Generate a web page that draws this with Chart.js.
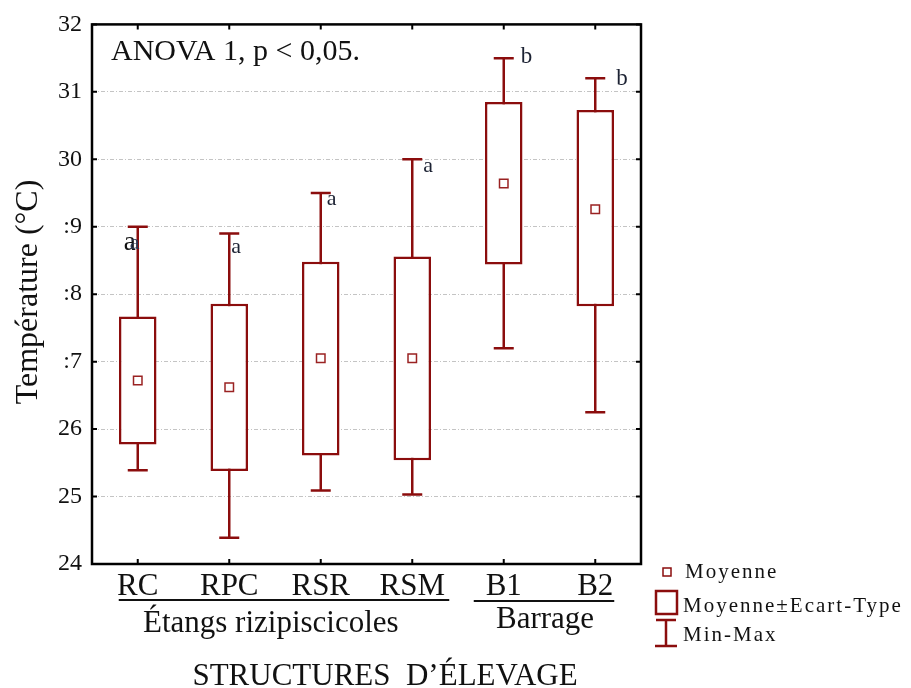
<!DOCTYPE html>
<html>
<head>
<meta charset="utf-8">
<script src="https://cdn.jsdelivr.net/npm/chart.js@4.4.1/dist/chart.umd.min.js"></script>
<style>
  html, body { margin: 0; padding: 0; background: #fff; }
  #wrap { width: 911px; height: 688px; }
</style>
</head>
<body>
<div id="wrap"><canvas id="chart" width="911" height="688"></canvas></div>
<script>
// ── Data ──
const categories = ['RC', 'RPC', 'RSR', 'RSM', 'B1', 'B2'];
const minVals    = [25.39, 24.39, 25.09, 25.03, 27.20, 26.25];
const sdLow      = [25.77, 25.38, 25.61, 25.54, 28.44, 27.82];
const means      = [26.72, 26.62, 27.05, 27.05, 29.64, 29.26];
const sdHigh     = [27.67, 27.86, 28.48, 28.56, 30.85, 30.73];
const maxVals    = [29.00, 28.90, 29.50, 30.00, 31.50, 31.20];
const groupLetters = ['a', 'a', 'a', 'a', 'b', 'b'];
// tick labels as they appear (the "2" is hidden under the axis title)
const yTickLabels = ['24', '25', '26', ':7', ':8', ':9', '30', '31', '32'];

const RED   = '#8b0d0d';
const SERIF = '"Liberation Serif", "Times New Roman", serif';

// ── Whiskers (min-max) drawn under the boxes ──
const whiskers = {
    id: 'whiskers',
    beforeDatasetsDraw(chart) {
        const { ctx, scales: { x, y } } = chart;
        ctx.save();
        ctx.strokeStyle = RED;
        ctx.lineWidth = 2.5;
        categories.forEach((c, i) => {
            const cx = x.getPixelForValue(i);
            const yMax = y.getPixelForValue(maxVals[i]);
            const yMin = y.getPixelForValue(minVals[i]);
            ctx.beginPath();
            ctx.moveTo(cx, yMax); ctx.lineTo(cx, yMin);
            ctx.moveTo(cx - 10, yMax); ctx.lineTo(cx + 10, yMax);
            ctx.moveTo(cx - 10, yMin); ctx.lineTo(cx + 10, yMin);
            ctx.stroke();
        });
        ctx.restore();
    }
};

// letter offsets next to the top whisker (px)
const letterDx = [-14, 2, 6, 11, 17, 21];
const letterDy = [23, 20, 12, 13, 5, 7];

// ── Frame, inner ticks, annotations, group labels, legend ──
const decorations = {
    id: 'decorations',
    afterDraw(chart) {
        const { ctx, chartArea: a, scales: { x, y } } = chart;
        ctx.save();

        // frame
        ctx.strokeStyle = '#000';
        ctx.lineWidth = 2.5;
        ctx.strokeRect(a.left, a.top, a.right - a.left, a.bottom - a.top);

        // inner ticks
        ctx.lineWidth = 2;
        ctx.beginPath();
        for (let v = 24; v <= 32; v++) {
            const py = y.getPixelForValue(v);
            ctx.moveTo(a.left, py); ctx.lineTo(a.left + 5, py);
            ctx.moveTo(a.right, py); ctx.lineTo(a.right - 5, py);
        }
        categories.forEach((c, i) => {
            const px = x.getPixelForValue(i);
            ctx.moveTo(px, a.top); ctx.lineTo(px, a.top + 5);
            ctx.moveTo(px, a.bottom); ctx.lineTo(px, a.bottom - 5);
        });
        ctx.stroke();

        // significance letters
        ctx.textAlign = 'left';
        ctx.textBaseline = 'alphabetic';
        groupLetters.forEach((l, i) => {
            const px = x.getPixelForValue(i) + letterDx[i];
            const py = y.getPixelForValue(maxVals[i]) + letterDy[i];
            if (i === 0) {
                ctx.fillStyle = '#111';
                ctx.font = '27px ' + SERIF;
                ctx.fillText(l, px, py);
                ctx.fillStyle = '#2a3550';
                ctx.font = '22px ' + SERIF;
                ctx.fillText(l, px + 6, py - 1);
            } else {
                ctx.fillStyle = '#1c2233';
                ctx.font = (l === 'b' ? '23px ' : '22px ') + SERIF;
                ctx.fillText(l, px, py);
            }
        });

        // ANOVA text
        ctx.fillStyle = '#111';
        ctx.font = '30px ' + SERIF;
        ctx.fillText('ANOVA 1, p < 0,05.', 111, 60);

        // group underlines
        ctx.strokeStyle = '#111';
        ctx.lineWidth = 2;
        ctx.beginPath();
        ctx.moveTo(x.getPixelForValue(0) - 19, 600); ctx.lineTo(x.getPixelForValue(3) + 37, 600);
        ctx.moveTo(x.getPixelForValue(4) - 30, 601); ctx.lineTo(x.getPixelForValue(5) + 19, 601);
        ctx.stroke();

        // group labels & axis titles
        ctx.font = '31px ' + SERIF;
        ctx.textAlign = 'left';
        ctx.fillText('Étangs rizipiscicoles', 143, 632);
        ctx.textAlign = 'center';
        ctx.fillText('Barrage', 545, 628);
        ctx.fillText('STRUCTURES  D’ÉLEVAGE', 385, 685);

        ctx.save();
        ctx.font = '32px ' + SERIF;
        ctx.translate(37, 292);
        ctx.rotate(-Math.PI / 2);
        ctx.fillText('Température (°C)', 0, 0);
        ctx.restore();

        // legend
        ctx.textAlign = 'left';
        ctx.font = '21px ' + SERIF;
        ctx.letterSpacing = '2px';
        ctx.fillStyle = '#111';
        ctx.fillText('Moyenne', 685, 578);
        ctx.fillText('Moyenne±Ecart-Type', 683, 612);
        ctx.fillText('Min-Max', 683, 641);
        ctx.letterSpacing = '0px';

        ctx.strokeStyle = RED;
        ctx.lineWidth = 1.5;
        ctx.strokeRect(663, 568, 8, 8);
        ctx.lineWidth = 2.5;
        ctx.strokeRect(656, 591, 21, 23);
        ctx.beginPath();
        ctx.moveTo(666, 619); ctx.lineTo(666, 646);
        ctx.moveTo(656, 620); ctx.lineTo(676, 620);
        ctx.moveTo(655, 646); ctx.lineTo(677, 646);
        ctx.stroke();

        ctx.restore();
    }
};

new Chart(document.getElementById('chart'), {
    type: 'bar',
    data: {
        labels: categories,
        datasets: [
            {
                type: 'line',
                label: 'Moyenne',
                data: means,
                showLine: false,
                pointStyle: 'rect',
                pointRadius: 6,
                pointBorderWidth: 1.5,
                pointBorderColor: '#9a2222',
                pointBackgroundColor: '#fff',
                order: 0
            },
            {
                label: 'Moyenne±Ecart-Type',
                data: sdLow.map((lo, i) => [lo, sdHigh[i]]),
                backgroundColor: '#fff',
                borderColor: RED,
                borderWidth: 2.5,
                borderSkipped: false,
                categoryPercentage: 1,
                barPercentage: 0.41,
                order: 1
            }
        ]
    },
    options: {
        responsive: false,
        animation: false,
        layout: { padding: { top: 21, right: 270, bottom: 0, left: 0 } },
        plugins: {
            legend: { display: false },
            tooltip: { enabled: false }
        },
        scales: {
            x: {
                grid: { display: false, drawTicks: false },
                border: { display: false },
                ticks: {
                    color: '#111',
                    padding: 4,
                    font: { family: SERIF, size: 31 }
                },
                afterFit(scale) { scale.height = 124; }
            },
            y: {
                min: 24,
                max: 32,
                grid: { color: '#c4c4c4', lineWidth: 1, drawTicks: false },
                border: { display: false, dash: [4, 2, 1, 2] },
                ticks: {
                    stepSize: 1,
                    color: '#111',
                    padding: 10,
                    font: { family: SERIF, size: 24 },
                    callback: (v) => yTickLabels[v - 24]
                },
                afterFit(scale) { scale.width = 92; }
            }
        }
    },
    plugins: [whiskers, decorations]
});
</script>
</body>
</html>
